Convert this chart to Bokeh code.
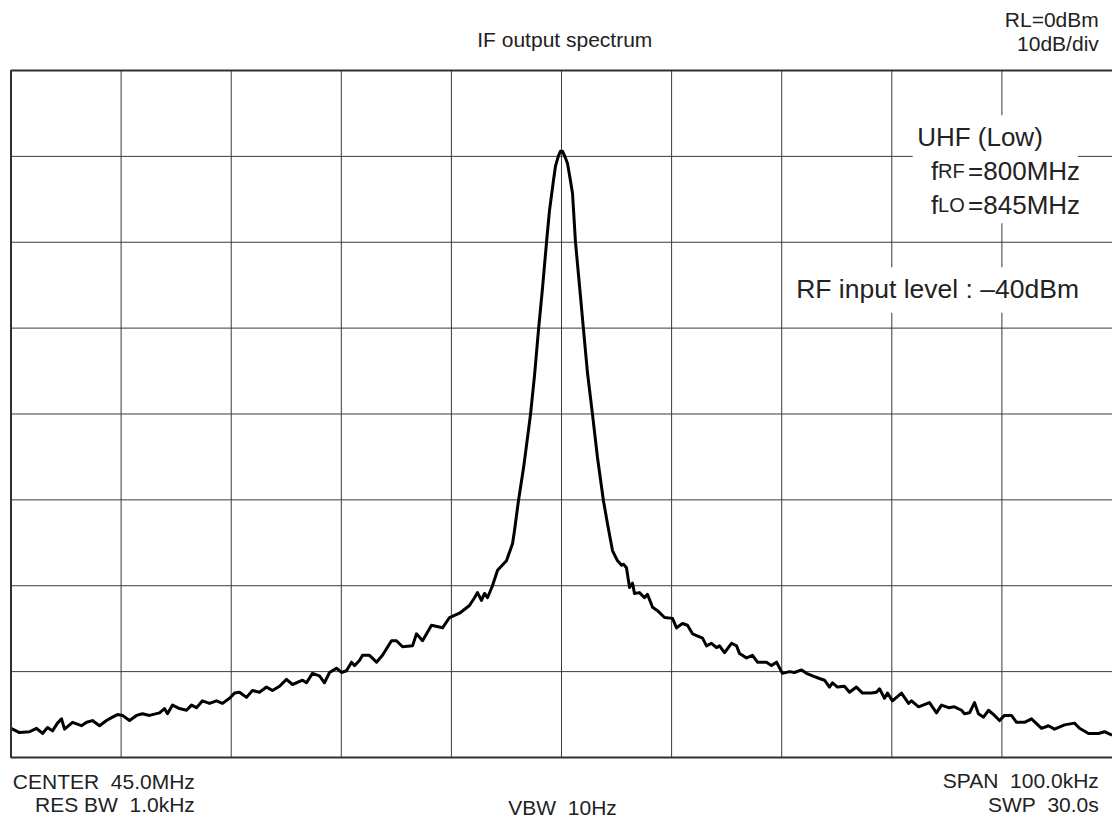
from bokeh.plotting import figure
from bokeh.models import Label, BoxAnnotation, Range1d
from bokeh.embed import file_html
from bokeh.resources import INLINE

# ---- data (offset from 45.0 MHz centre, kHz ; level, dBm) ----
freq_khz = [-50.0, -49.23, -48.32, -47.68, -47.14, -46.68, -46.23, -45.78, -45.41, -45.14,
            -44.41, -43.60, -43.14, -42.60, -41.96, -41.33, -40.78, -40.33, -39.87, -39.24,
            -38.60, -38.06, -37.42, -36.51, -36.06, -35.79, -35.33, -34.70, -34.06, -33.61,
            -33.15, -32.61, -31.97, -31.34, -30.79, -30.15, -29.70, -29.25, -28.61, -28.07,
            -27.43, -26.79, -26.25, -25.61, -24.98, -24.43, -23.52, -23.16, -22.62, -21.98,
            -21.53, -21.07, -20.44, -19.98, -19.53, -19.07, -18.80, -18.35, -18.07, -17.44,
            -16.80, -16.26, -15.44, -14.99, -14.44, -13.53, -13.17, -12.62, -11.81, -10.81,
            -10.17, -9.26, -8.36, -7.90, -7.63, -7.27, -6.99, -6.72, -6.27, -5.81,
            -5.00, -4.45, -4.27, -3.91, -3.45, -3.00, -2.82, -2.45, -2.09, -1.73,
            -1.36, -1.09, -0.73, -0.54, -0.27, -0.09, 0.09, 0.27, 0.54, 0.73,
            1.00, 1.27, 1.73, 2.00, 2.36, 2.82, 3.27, 3.81, 4.18, 4.63,
            5.09, 5.45, 5.63, 5.90, 6.18, 6.45, 6.63, 7.08, 7.54, 7.81,
            8.27, 8.72, 9.36, 10.08, 10.45, 10.99, 11.44, 11.90, 12.81, 13.17,
            13.62, 14.08, 14.35, 14.80, 15.44, 15.90, 16.17, 16.80, 17.35, 17.80,
            18.62, 19.07, 19.53, 20.07, 20.71, 21.16, 21.80, 22.25, 22.80, 23.43,
            23.89, 24.34, 24.61, 25.07, 25.70, 26.16, 26.79, 27.34, 28.16, 28.61,
            28.88, 29.34, 29.61, 30.06, 30.88, 31.52, 31.79, 32.43, 33.42, 34.06,
            34.51, 35.15, 35.69, 36.33, 36.60, 37.06, 37.51, 37.87, 38.33, 38.78,
            39.33, 39.78, 40.24, 40.87, 41.33, 42.05, 42.69, 43.60, 44.23, 44.78,
            45.69, 46.59, 47.05, 47.87, 48.77, 49.32, 50.0]

level_dbm = [-76.6, -77.1, -77.0, -76.6, -77.2, -76.5, -76.9, -76.0, -75.5, -76.7,
             -75.9, -76.3, -75.9, -75.7, -76.3, -75.7, -75.3, -75.0, -75.1, -75.7,
             -75.1, -74.9, -75.1, -74.8, -74.3, -74.9, -73.9, -74.3, -74.5, -73.9,
             -74.2, -73.4, -73.7, -73.4, -73.7, -73.1, -72.5, -72.4, -73.0, -72.2,
             -72.4, -71.8, -72.2, -71.7, -70.9, -71.5, -71.0, -71.3, -70.2, -70.5,
             -71.3, -70.1, -69.6, -70.1, -69.9, -68.9, -69.3, -68.7, -68.1, -68.1,
             -68.9, -68.1, -66.4, -66.4, -67.1, -67.0, -65.6, -66.4, -64.6, -64.9,
             -63.7, -63.2, -62.3, -61.4, -60.8, -61.7, -60.9, -61.4, -60.0, -58.2,
             -57.1, -55.1, -53.6, -50.1, -46.3, -41.9, -40.1, -35.5, -30.2, -25.4,
             -20.0, -16.3, -12.8, -11.1, -9.9, -9.4, -9.4, -9.9, -10.8, -12.2,
             -14.3, -20.0, -26.4, -30.2, -35.2, -40.1, -45.1, -50.1, -52.8, -55.9,
             -57.1, -57.6, -57.5, -57.9, -60.2, -59.7, -60.9, -60.8, -61.4, -61.0,
             -62.5, -62.9, -63.7, -63.8, -64.9, -64.4, -64.6, -65.6, -66.1, -67.0,
             -66.7, -67.2, -67.0, -67.8, -66.7, -67.0, -67.9, -68.4, -68.1, -68.9,
             -68.9, -69.3, -68.9, -70.2, -70.0, -70.1, -69.8, -70.2, -70.5, -70.8,
             -71.0, -71.8, -71.3, -71.8, -71.7, -72.4, -71.8, -72.5, -72.5, -72.4,
             -72.0, -73.1, -72.5, -73.4, -72.5, -73.7, -73.4, -74.1, -73.6, -74.8,
             -73.9, -74.2, -74.1, -74.5, -74.9, -74.8, -73.6, -74.9, -75.3, -74.5,
             -75.1, -75.7, -75.1, -75.1, -75.9, -75.9, -75.5, -76.6, -76.3, -76.7,
             -76.2, -76.0, -76.6, -77.2, -77.2, -77.0, -77.4]

x_grid_ticks = [-40, -30, -20, -10, 0, 10, 20, 30, 40]
y_grid_ticks = [-70, -60, -50, -40, -30, -20, -10]
x_span = (-50, 50)       # 100 kHz span
y_span = (-80, 0)        # RL = 0 dBm, 10 dB/div

FONT = "Liberation Sans"
TXT = "#222222"
DY = 0.93                # baseline correction (about 8 px) in dB units

# The frame covers the whole canvas; the graticule is drawn within the span,
# so that header / footer texts can sit outside it without clipping.
p = figure(width=1112, height=823, output_backend="svg", toolbar_location=None,
           x_range=Range1d(-50.954, 50.045), y_range=Range1d(-87.686, 8.151),
           x_axis_location=None, y_axis_location=None,
           min_border=0, background_fill_color="white", border_fill_color="white")
p.outline_line_color = None
p.xgrid.visible = False
p.ygrid.visible = False

# graticule
nx, ny = len(x_grid_ticks), len(y_grid_ticks)
p.segment(x0=x_grid_ticks, y0=[y_span[0]] * nx, x1=x_grid_ticks, y1=[y_span[1]] * nx,
          line_color="#3a3a3a", line_width=1)
p.segment(x0=[x_span[0]] * ny, y0=y_grid_ticks, x1=[x_span[1] + 2] * ny, y1=y_grid_ticks,
          line_color="#3a3a3a", line_width=1)
p.add_layout(BoxAnnotation(left=x_span[0], right=x_span[1] + 2, top=y_span[1], bottom=y_span[0],
                           fill_alpha=0, line_color="#303030", line_alpha=1.0, line_width=2))

p.line(freq_khz, level_dbm, line_color="black", line_width=3.0, line_join="round")

# white boxes behind in-plot annotations
p.add_layout(BoxAnnotation(left=31.9, right=46.9, top=-5.2, bottom=-17.8,
                           fill_color="white", fill_alpha=1.0, line_color=None))
p.add_layout(BoxAnnotation(left=20.8, right=47.6, top=-22.9, bottom=-28.2,
                           fill_color="white", fill_alpha=1.0, line_color=None))


def lab(x, y, text, size, align="left"):
    p.add_layout(Label(x=x, y=y + DY, text=text, text_font=FONT, text_font_size=size,
                       text_color=TXT, text_align=align, text_baseline="alphabetic"))


# header
lab(0.3, 2.68, "IF output spectrum", "21px", "center")
lab(48.8, 5.0, "RL=0dBm", "21px", "right")
lab(48.8, 2.21, "10dB/div", "21px", "right")

# footer
lab(-33.3, -83.73, "CENTER\u00a0 45.0MHz", "21px", "right")
lab(-33.3, -86.4, "RES BW\u00a0 1.0kHz", "21px", "right")
lab(0.1, -86.7, "VBW\u00a0 10Hz", "21px", "center")
lab(48.8, -83.6, "SPAN\u00a0 100.0kHz", "21px", "right")
lab(48.8, -86.4, "SWP\u00a0 30.0s", "21px", "right")

# in-plot annotations
lab(32.3, -8.62, "UHF (Low)", "26px", "left")
lab(33.55, -12.58, "f", "26px", "left")
lab(34.2, -12.58, "RF", "20px", "left")
lab(47.1, -12.58, "=800MHz", "26px", "right")
lab(33.55, -16.54, "f", "26px", "left")
lab(34.2, -16.54, "LO", "20px", "left")
lab(47.1, -16.54, "=845MHz", "26px", "right")
lab(47.0, -26.43, "RF input level : \u201340dBm", "26.5px", "right")

open("out.html", "w").write(file_html(p, INLINE))
